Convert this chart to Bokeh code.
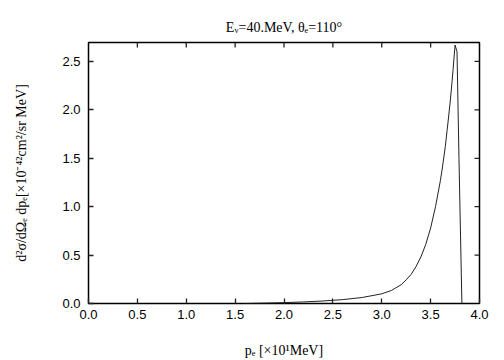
import math
from bokeh.plotting import figure
from bokeh.models import FixedTicker, PrintfTickFormatter, Range1d
from bokeh.embed import file_html
from bokeh.resources import INLINE

# ---- data ----
P_E = [1.60, 1.80, 2.00, 2.20, 2.40, 2.60, 2.80, 3.00, 3.10, 3.20, 3.25, 3.30, 3.35,
       3.40, 3.45, 3.50, 3.55, 3.60, 3.62, 3.65, 3.67, 3.70, 3.72, 3.73, 3.75, 3.77,
       3.79, 3.82]
XSEC = [0.000, 0.004, 0.009, 0.016, 0.026, 0.040, 0.062, 0.100, 0.135, 0.195, 0.245,
        0.300, 0.380, 0.480, 0.610, 0.780, 1.000, 1.270, 1.400, 1.620, 1.800, 2.080,
        2.300, 2.420, 2.670, 2.600, 1.500, 0.000]
X_TICKS = [0.0, 0.5, 1.0, 1.5, 2.0, 2.5, 3.0, 3.5, 4.0]
Y_TICKS = [0.0, 0.5, 1.0, 1.5, 2.0, 2.5]
X_START, X_END = 0.0, 4.0
Y_START, Y_END = 0.0, 2.696
TITLE = "Eᵥ=40.MeV, θₑ=110°"
X_LABEL = "pₑ [×10¹MeV]"
Y_LABEL = "d²σ/dΩₑ dpₑ[×10⁻⁴²cm²/sr MeV]"

# ---- layout ----
W, H = 504, 360
BL, BR, BT, BB = 88, 25, 42, 57
FX0, FX1 = BL, W - BR
FY0, FY1 = BT, H - BB
TICK_PX = 5
SERIF = "Liberation Serif"

p = figure(width=W, height=H, output_backend="svg", toolbar_location=None,
           x_range=Range1d(X_START, X_END), y_range=Range1d(Y_START, Y_END),
           min_border_left=BL, min_border_right=BR, min_border_top=BT,
           min_border_bottom=BB, background_fill_color="white",
           border_fill_color="white", title=TITLE)
p.grid.visible = False
p.outline_line_color = "black"
p.outline_line_width = 1.5

p.title.align = "center"
p.title.text_font = SERIF
p.title.text_font_size = "14px"
p.title.text_font_style = "normal"
p.title.text_color = "black"
p.title.standoff = 16

TICK_FONT = "Liberation Sans"
for ax in (p.xaxis[0], p.yaxis[0]):
    ax.axis_line_color = None
    ax.major_tick_in = TICK_PX
    ax.major_tick_out = 0
    ax.major_tick_line_color = "#222222"
    ax.major_tick_line_width = 1.3
    ax.minor_tick_line_color = None
    ax.major_label_text_font = TICK_FONT
    ax.major_label_text_color = "black"
    ax.major_label_text_font_size = "13px"
    ax.axis_label_text_font = SERIF
    ax.axis_label_text_font_size = "14px"
    ax.axis_label_text_font_style = "normal"
    ax.axis_label_text_color = "black"

p.xaxis.ticker = FixedTicker(ticks=X_TICKS)
p.yaxis.ticker = FixedTicker(ticks=Y_TICKS)
p.xaxis.formatter = PrintfTickFormatter(format="%.1f")
p.yaxis.formatter = PrintfTickFormatter(format="%.1f")
p.xaxis.major_label_standoff = 6
p.yaxis.major_label_standoff = 8
p.xaxis.axis_label = X_LABEL
p.yaxis.axis_label = Y_LABEL
p.xaxis.axis_label_standoff = 21
p.yaxis.axis_label_standoff = 30

# mirrored inward ticks on the top and right borders
tx = X_TICKS[1:-1]
ty = Y_TICKS[1:]
dy_tick = TICK_PX * (Y_END - Y_START) / (FY1 - FY0)
dx_tick = TICK_PX * (X_END - X_START) / (FX1 - FX0)
p.segment(x0=tx, y0=[Y_END] * len(tx), x1=tx, y1=[Y_END - dy_tick] * len(tx),
          line_color="#222222", line_width=1.3)
p.segment(x0=[X_END] * len(ty), y0=ty, x1=[X_END - dx_tick] * len(ty), y1=ty,
          line_color="#222222", line_width=1.3)

p.line(P_E, XSEC, line_color="#222222", line_width=1)

open("out.html", "w").write(file_html(p, INLINE))
